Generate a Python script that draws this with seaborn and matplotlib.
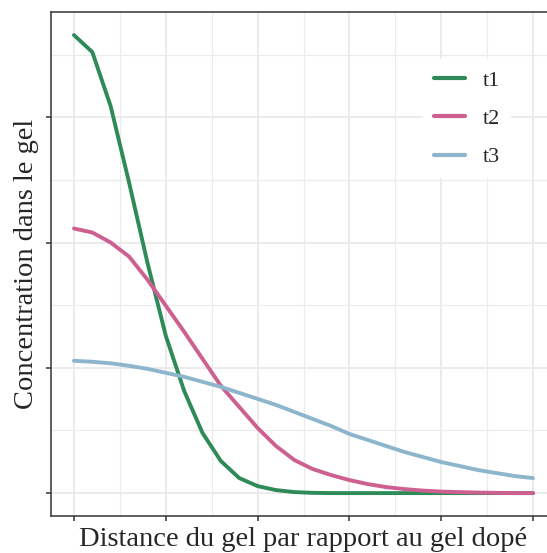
import numpy as np
import pandas as pd
import matplotlib
matplotlib.use("Agg")
import matplotlib.pyplot as plt
import seaborn as sns

# ---- data ----
distance = [0.0, 0.2, 0.4, 0.6, 0.8, 1.0, 1.2, 1.4, 1.6, 1.8, 2.0, 2.2, 2.4,
            2.6, 2.8, 3.0, 3.2, 3.4, 3.6, 3.8, 4.0, 4.2, 4.4, 4.6, 4.8, 5.0]
t1 = [0.914, 0.880, 0.772, 0.620, 0.460, 0.314, 0.204, 0.120, 0.064, 0.030,
      0.014, 0.006, 0.002, 0.0005, 0.0, 0.0, 0.0, 0.0, 0.0, 0.0,
      0.0, 0.0, 0.0, 0.0, 0.0, 0.0]
t2 = [0.528, 0.520, 0.500, 0.472, 0.426, 0.374, 0.322, 0.268, 0.214, 0.172,
      0.130, 0.094, 0.066, 0.048, 0.036, 0.026, 0.018, 0.012, 0.008, 0.005,
      0.003, 0.002, 0.001, 0.0005, 0.0, 0.0]
t3 = [0.264, 0.262, 0.259, 0.254, 0.248, 0.240, 0.232, 0.222, 0.212, 0.200,
      0.188, 0.176, 0.162, 0.148, 0.134, 0.118, 0.106, 0.094, 0.082, 0.072,
      0.062, 0.054, 0.046, 0.040, 0.034, 0.030]
series_names = ["t1", "t2", "t3"]
series_colors = ["#2E8B57", "#CD6090", "#8DB6CD"]
x_label = "Distance du gel par rapport au gel dopé"
y_label = "Concentration dans le gel"

df = pd.DataFrame({
    "distance": distance * 3,
    "conc": t1 + t2 + t3,
    "temps": [series_names[0]] * len(distance) + [series_names[1]] * len(distance)
             + [series_names[2]] * len(distance),
})

sns.set_style("white")
plt.rcParams["font.family"] = ["Liberation Serif", "DejaVu Serif"]

W, H = 547, 553
fig = plt.figure(figsize=(W / 100, H / 100), dpi=100)
left, right, top, bottom = 51, 556, 12, 516
ax = fig.add_axes([left / W, 1 - bottom / H, (right - left) / W, (bottom - top) / H])

sns.lineplot(data=df, x="distance", y="conc", hue="temps",
             palette=dict(zip(series_names, series_colors)),
             linewidth=2.8, ax=ax, legend=True)

ax.set_xlim(-0.25, 5.25)
ax.set_ylim(-0.0457, 0.96)
ax.set_xticks(np.arange(0, 5.01, 1))
ax.set_xticks(np.arange(0.5, 5.0, 1), minor=True)
ax.set_yticks([0, 0.25, 0.5, 0.75])
ax.set_yticks([0.125, 0.375, 0.625, 0.875], minor=True)
ax.set_xticklabels([])
ax.set_yticklabels([])
ax.tick_params(which="major", bottom=True, left=True, direction="out",
               length=3.6, width=1.1, color="#333333")
ax.tick_params(which="minor", bottom=False, left=False, length=0)
ax.grid(True, which="major", color="#EBEBEB", linewidth=1.4)
ax.grid(True, which="minor", color="#EBEBEB", linewidth=0.8)
ax.set_axisbelow(True)
for s in ax.spines.values():
    s.set_color("#333333")
    s.set_linewidth(1.1)

ax.set_xlabel(x_label, fontsize=20.5, va="baseline")
ax.set_ylabel(y_label, fontsize=20.5, va="baseline")
ax.xaxis.set_label_coords(0.5, -(546 - bottom) / (bottom - top))
ax.yaxis.set_label_coords(-(left - 33) / (right - left), 0.5)

leg = ax.legend(loc="upper left",
                bbox_to_anchor=((423 - left) / (right - left), 1 - (59 - top) / (bottom - top)),
                borderaxespad=0, frameon=True, fontsize=16, handlelength=1.4,
                handletextpad=0.77, labelspacing=0.8, borderpad=0.5, title=None)
leg.get_frame().set_facecolor("white")
leg.get_frame().set_edgecolor("none")
leg.get_frame().set_alpha(1)
for line in leg.get_lines():
    line.set_linewidth(3)

fig.savefig("out.png", dpi=100)
